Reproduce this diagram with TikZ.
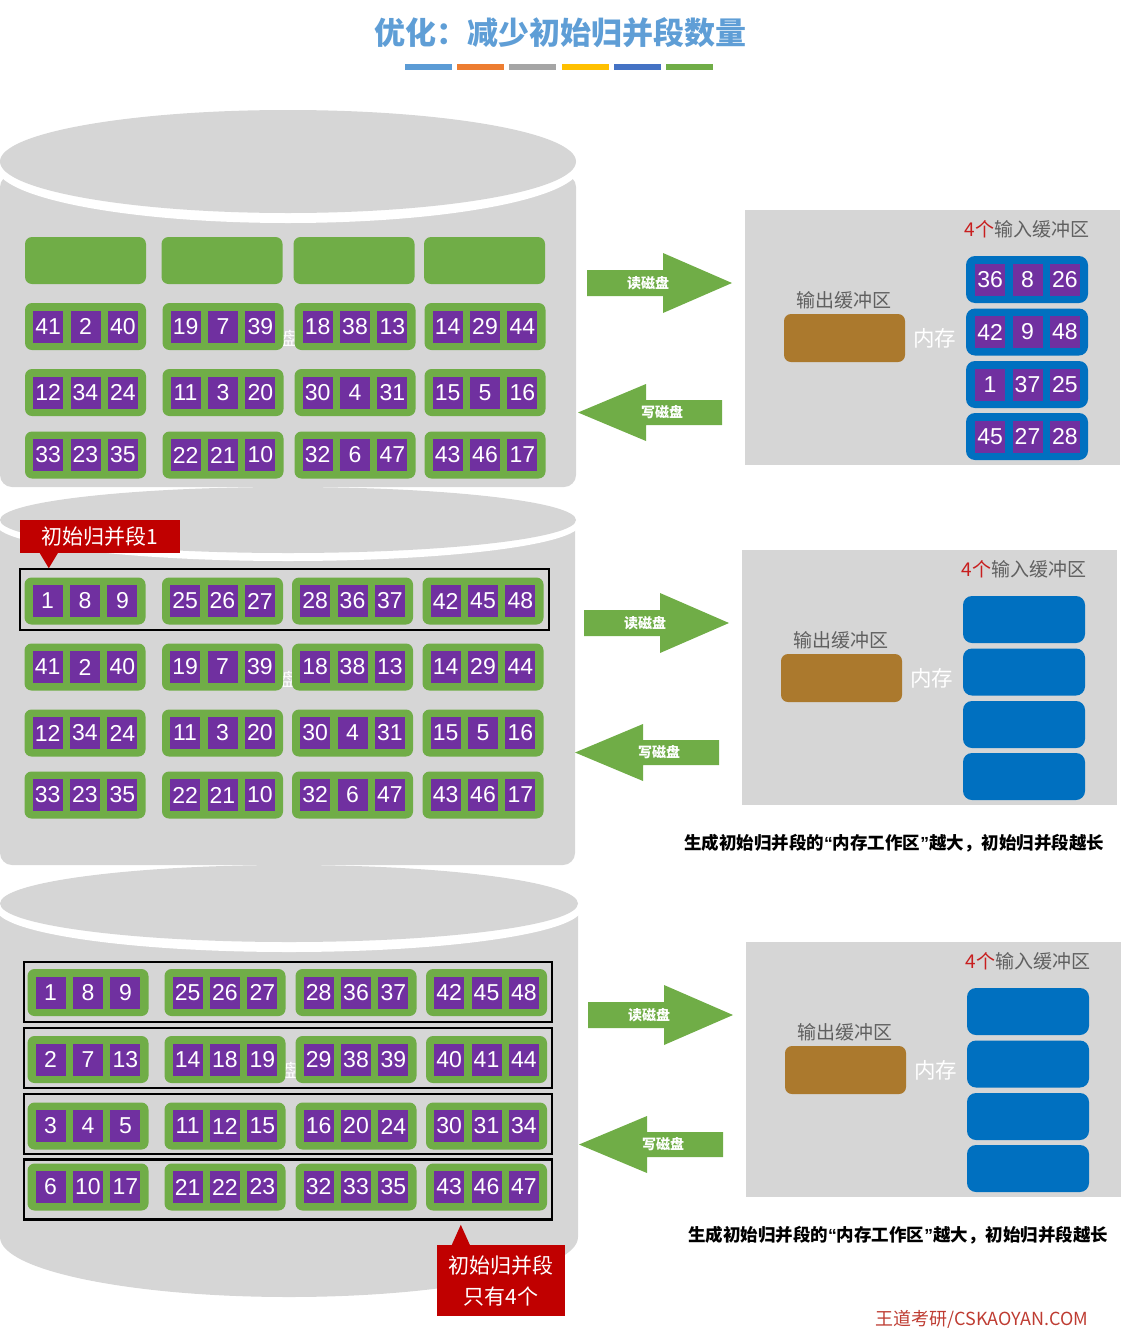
\documentclass[tikz,border=0pt]{standalone}
\usepackage{fontspec}
\setmainfont{Liberation Sans}
\newfontfamily\cjk{Noto Sans CJK SC}
\usetikzlibrary{positioning}

\definecolor{diskgray}{RGB}{214,214,214}
\definecolor{rungreen}{RGB}{112,173,71}
\definecolor{keypurple}{RGB}{112,48,160}
\definecolor{bufblue}{RGB}{0,112,192}
\definecolor{outbrown}{RGB}{171,121,45}
\definecolor{tagred}{RGB}{192,0,0}
\definecolor{titleblue}{RGB}{95,158,214}
\definecolor{lblgray}{RGB}{96,96,96}
\definecolor{numred}{RGB}{200,30,30}
\definecolor{markred}{RGB}{190,60,50}
\definecolor{bara}{RGB}{91,155,213}
\definecolor{barb}{RGB}{237,125,49}
\definecolor{barc}{RGB}{165,165,165}
\definecolor{bard}{RGB}{255,192,0}
\definecolor{bare}{RGB}{68,114,196}
\definecolor{barf}{RGB}{112,173,71}

\begin{document}
\begin{tikzpicture}[x=1pt,y=1pt,
    run/.style={fill=rungreen, rounded corners=7pt, minimum width=121pt, minimum height=47pt, inner sep=0pt},
    key/.style={fill=keypurple, text=white, font=\fontsize{23}{23}\selectfont, minimum width=30pt, minimum height=32pt, inner sep=0pt},
    buf/.style={fill=bufblue, rounded corners=9pt, minimum width=122pt, minimum height=47pt, inner sep=0pt},
    mem/.style={fill=diskgray, minimum width=375pt, minimum height=255pt, inner sep=0pt},
    outbuf/.style={fill=outbrown, rounded corners=7pt, minimum width=121pt, minimum height=48pt, inner sep=0pt},
    grp/.style={draw=black, line width=2.2pt, minimum width=528pt, minimum height=60pt, inner sep=0pt},
    tag/.style={fill=tagred, text=white, font=\cjk\fontsize{21}{31}\selectfont, inner sep=0pt},
    lbl/.style={text=lblgray, font=\cjk\fontsize{19}{19}\selectfont, inner sep=0pt},
    memtxt/.style={text=white, font=\cjk\fontsize{21.5}{21.5}\selectfont, inner sep=0pt},
    arrowtxt/.style={text=white, font=\cjk\bfseries\fontsize{14}{14}\selectfont, inner sep=0pt},
    captxt/.style={font=\cjk\bfseries\fontsize{17.5}{17.5}\selectfont, inner sep=0pt},
    stray/.style={text=white, font=\cjk\fontsize{18}{18}\selectfont, inner sep=0pt}]
    \useasboundingbox (0,0) rectangle (1120,-1328);

    % title
    \node[font=\cjk\bfseries\fontsize{31}{31}\selectfont, text=titleblue] (title) at (560,-33) {优化：减少初始归并段数量};
    \foreach \col [count=\i] in {bara,barb,barc,bard,bare,barf}
      \fill[\col] ({405+52.2*(\i-1)},-64) rectangle ++(47,-6);

    % disk 1
    \fill[diskgray, rounded corners=12pt] (0,-175) rectangle (576,-487);
    \fill[white] (288,-166.5) ellipse [x radius=292, y radius=56.5];
    \fill[diskgray] (288,-161.5) ellipse [x radius=288, y radius=51.5];
    % disk 2
    \fill[diskgray, rounded corners=12pt] (0,-515) rectangle (575,-865);
    \fill[white] (288,-524) ellipse [x radius=292, y radius=37];
    \fill[diskgray] (288,-520) ellipse [x radius=288, y radius=33];
    % disk 3
    \fill[diskgray] (0,-905) -- (0,-1237) arc [start angle=180, end angle=360, x radius=289, y radius=60] -- (578,-905) -- cycle;
    \fill[white] (289,-908.5) ellipse [x radius=293, y radius=43.5];
    \fill[diskgray] (289,-903.5) ellipse [x radius=289, y radius=38.5];

    \node[stray] (stray1) at (290,-338) {盘};
    \node[stray] (stray2) at (289,-679) {盘};
    \node[stray] (stray3) at (291,-1070) {盘};

    % empty runs on disk 1
    \foreach \n/\x in {c1e1/85.5, c1e2/222, c1e3/354, c1e4/484.5}
      \node[run] (\n) at (\x,-260.5) {};

    % runs: name/x/y/keys
    \foreach \n/\x/\y/\a/\b/\c in {
        c1a1/85.5/326.5/41/2/40, c1a2/223/326.5/19/7/39, c1a3/355/326.5/18/38/13, c1a4/485/326.5/14/29/44,
        c1b1/85.5/392.5/12/34/24, c1b2/223/392.5/11/3/20, c1b3/355/392.5/30/4/31, c1b4/485/392.5/15/5/16,
        c1c1/85.5/455/33/23/35, c1c2/223/455/22/21/10, c1c3/355/455/32/6/47, c1c4/485/455/43/46/17,
        c2a1/85/601/1/8/9, c2a2/222.5/601/25/26/27, c2a3/352.5/601/28/36/37, c2a4/483/601/42/45/48,
        c2b1/85/667/41/2/40, c2b2/222.5/667/19/7/39, c2b3/352.5/667/18/38/13, c2b4/483/667/14/29/44,
        c2c1/85/733/12/34/24, c2c2/222.5/733/11/3/20, c2c3/352.5/733/30/4/31, c2c4/483/733/15/5/16,
        c2d1/85/795/33/23/35, c2d2/222.5/795/22/21/10, c2d3/352.5/795/32/6/47, c2d4/483/795/43/46/17,
        c3a1/88/992.5/1/8/9, c3a2/225/992.5/25/26/27, c3a3/356/992.5/28/36/37, c3a4/486.5/992.5/42/45/48,
        c3b1/88/1059.5/2/7/13, c3b2/225/1059.5/14/18/19, c3b3/356/1059.5/29/38/39, c3b4/486.5/1059.5/40/41/44,
        c3c1/88/1126/3/4/5, c3c2/225/1126/11/12/15, c3c3/356/1126/16/20/24, c3c4/486.5/1126/30/31/34,
        c3d1/88/1187/6/10/17, c3d2/225/1187/21/22/23, c3d3/356/1187/32/33/35, c3d4/486.5/1187/43/46/47}{
      \node[run] (\n) at (\x,-\y) {};
      \node[key] (\n-2) at (\n) {\b};
      \node[key, left=7pt of \n-2] (\n-1) {\a};
      \node[key, right=7pt of \n-2] (\n-3) {\c};
    }

    % initial runs
    \node[grp, minimum width=529pt, minimum height=61pt] (seg2) at (284.5,-599.5) {};
    \foreach \n/\y in {a/992, b/1058, c/1124, d/1189.5}
      \node[grp] (seg3\n) at (288,-\y) {};

    \node[tag, minimum width=160pt, minimum height=33pt] (tag1) at (100,-536.5) {初始归并段1};
    \fill[tagred] ([xshift=20pt]tag1.south west) -- ++(18,0) -- ++(-9,-15) -- cycle;
    \node[tag, minimum width=128pt, minimum height=71pt, align=center] (tag2) at (501,-1280.5) {初始归并段\\只有4个};
    \fill[tagred] ([xshift=15pt]tag2.north west) -- ++(18,0) -- ++(-9,20) -- cycle;

    % memory
    \foreach \p/\dx/\dy in {1/0/0, 2/-3/-340, 3/1/-732}{
      \begin{scope}[shift={(\dx,\dy)}]
        \node[mem] (mem\p) at (932.5,-337.5) {};
        \node[lbl] (inlbl\p) at (1027,-229) {\textcolor{numred}{4个}输入缓冲区};
        \node[lbl] (outlbl\p) at (843.5,-300) {输出缓冲区};
        \node[outbuf] (out\p) at (844.5,-338) {};
        \node[memtxt] (memtxt\p) at (934.5,-338) {内存};
        \foreach \k/\y in {1/279.5, 2/332, 3/384.5, 4/436.5}
          \node[buf] (in\p\k) at (1027,-\y) {};
        \fill[rungreen] (587,-270) -- (663,-270) -- (663,-253) -- (732,-283) -- (663,-313) -- (663,-296) -- (587,-296) -- cycle;
        \node[arrowtxt] (rd\p) at (648,-283) {读磁盘};
        \fill[rungreen] (722,-400) -- (646,-400) -- (646,-384) -- (578,-412.5) -- (646,-441) -- (646,-425) -- (722,-425) -- cycle;
        \node[arrowtxt] (wr\p) at (662,-412.5) {写磁盘};
      \end{scope}
    }
    \foreach \k/\a/\b/\c in {1/36/8/26, 2/42/9/48, 3/1/37/25, 4/45/27/28}{
      \node[key] (in1\k-2) at ([xshift=0.5pt]in1\k) {\b};
      \node[key, left=7pt of in1\k-2] (in1\k-1) {\a};
      \node[key, right=7pt of in1\k-2] (in1\k-3) {\c};
    }

    \node[captxt] (cap2) at (894,-843) {生成初始归并段的\textrm{“}内存工作区\textrm{”}越大，初始归并段越长};
    \node[captxt] (cap3) at (898,-1235) {生成初始归并段的\textrm{“}内存工作区\textrm{”}越大，初始归并段越长};
    \node[font=\cjk\fontsize{18}{18}\selectfont, text=markred, inner sep=0pt] (mark) at (982,-1319) {王道考研/CSKAOYAN.COM};
\end{tikzpicture}
\end{document}
